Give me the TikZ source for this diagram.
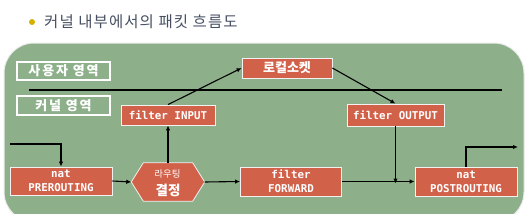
\documentclass[tikz,border=0pt]{standalone}
\usepackage{fontspec}
\newfontfamily\kr{Noto Sans CJK KR}
\newfontfamily\krsp{Noto Sans CJK KR}[LetterSpace=14]
\newfontfamily\krtitle{Noto Sans CJK KR}[LetterSpace=7]
\newfontfamily\mono{DejaVu Sans Mono}
\usetikzlibrary{arrows.meta}
\definecolor{panelgreen}{HTML}{8DB08A}
\definecolor{boxred}{HTML}{D2614A}
\definecolor{titlecol}{HTML}{475062}
\definecolor{bulletcol}{HTML}{D4B000}
\tikzset{
  panel/.style={fill=panelgreen, draw=white!85!gray, line width=1pt, rounded corners=30pt},
  areabox/.style={draw=white, line width=1.1pt, text=white, inner sep=0pt, font=\krsp\bfseries\fontsize{13}{13}\selectfont},
  redbox/.style={fill=boxred, draw=white!90!gray, line width=0.8pt, text=white, inner sep=0pt, align=center, font=\mono\bfseries\fontsize{10.8}{14}\selectfont},
  krbox/.style={redbox, font=\kr\bfseries\fontsize{13}{13}\selectfont},
  hextext/.style={text=white, inner sep=0pt},
  arr/.style={draw=black, line width=1.1pt, -{Latex[length=5pt,width=4.5pt]}},
  plain/.style={draw=black, line width=1.1pt},
}
\begin{document}
\begin{tikzpicture}[x=1pt,y=-1pt]
\useasboundingbox (0,0) rectangle (525,214);
\fill[white] (0,0) rectangle (525,214);
% title
\node[circle, fill=bulletcol, inner sep=0pt, minimum size=6pt] (bullet) at (32,22) {};
\node[anchor=west, text=titlecol, font=\krtitle\fontsize{15.5}{15.5}\selectfont, inner sep=0pt] (title) at (44,22) {커널 내부에서의 패킷 흐름도};
% panel
\path[panel] (4,43) rectangle (524,222);
% area labels
\node[areabox, minimum width=93pt, minimum height=18pt] (user) at (63.5,71) {사용자 영역};
\node[areabox, minimum width=93pt, minimum height=19pt] (kernel) at (63.5,105.5) {커널 영역};
\coordinate (lineL) at (29,90);
\coordinate (lineR) at (502,90);
\draw[plain] (lineL) -- (lineR);
% boxes
\node[krbox, minimum width=90pt, minimum height=20pt] (local) at (287,68) {로컬소켓};
\node[redbox, minimum width=94pt, minimum height=20pt] (fin) at (168,115) {filter INPUT};
\node[redbox, minimum width=97pt, minimum height=22pt] (fout) at (395.5,115) {filter OUTPUT};
\node[redbox, minimum width=102pt, minimum height=28pt] (pre) at (61,181) {nat\\PREROUTING};
\node[redbox, minimum width=101pt, minimum height=29pt] (fwd) at (291,181.5) {filter\\FORWARD};
\node[redbox, minimum width=102pt, minimum height=29pt] (post) at (466,181.5) {nat\\POSTROUTING};
% hexagon
\node[minimum width=73pt, minimum height=38pt, inner sep=0pt] (route) at (168,182) {};
\filldraw[fill=boxred, draw=white!90!gray, line width=0.8pt]
  (route.west) -- ([xshift=12pt]route.north west) -- ([xshift=-12pt]route.north east)
  -- (route.east) -- ([xshift=-12pt]route.south east) -- ([xshift=12pt]route.south west) -- cycle;
\node[hextext, font=\kr\fontsize{9.5}{10}\selectfont] (rt1) at (167.5,174) {라우팅};
\node[hextext, font=\kr\bfseries\fontsize{13.5}{14}\selectfont] (rt2) at (168,190) {결정};
% connectors
\coordinate (in) at (10,144);
\draw[arr] (in) -| (pre.north);
\draw[arr] (pre.east) -- (route.west);
\draw[arr] (route.east) -- (fwd.west);
\draw[arr] (route.north) -- (fin.south);
\draw[arr] (fin.north) -- (local.west);
\draw[arr] (local.east) -- (fout.north);
\coordinate (merge) at (fout.south |- fwd.east);
\draw[arr] (fout.south) -- ([yshift=-2pt]merge);
\draw[arr] (fwd.east) -- (post.west);
\coordinate (out) at (518,147);
\draw[arr] (post.north) |- (out);
\end{tikzpicture}
\end{document}
